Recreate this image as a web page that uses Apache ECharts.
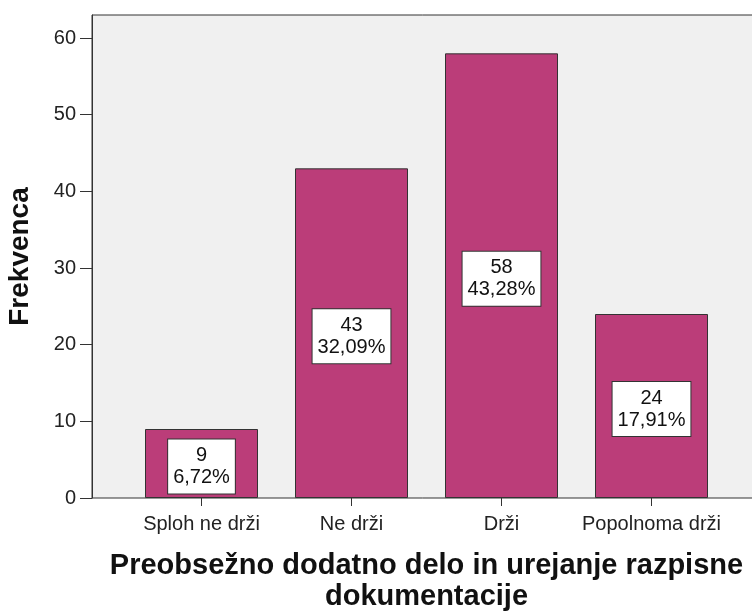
<!DOCTYPE html>
<html>
<head>
<meta charset="utf-8">
<script src="https://cdn.jsdelivr.net/npm/echarts@6/dist/echarts.min.js"></script>
<style>
html,body{margin:0;padding:0;background:#fff;}
#chart{width:752px;height:613px;}
</style>
</head>
<body>
<div id="chart"></div>
<script>
const categories = ['Sploh ne drži', 'Ne drži', 'Drži', 'Popolnoma drži'];
const counts = [9, 43, 58, 24];
const percentLabels = ['6,72%', '32,09%', '43,28%', '17,91%'];
const yTicks = [0, 10, 20, 30, 40, 50, 60];
const xTitle = 'Preobsežno dodatno delo in urejanje razpisne\ndokumentacije';
const yTitle = 'Frekvenca';

const FONT = '"Liberation Sans", Arial, sans-serif';
const chart = echarts.init(document.getElementById('chart'), null, {renderer: 'canvas'});

chart.setOption({
  animation: false,
  backgroundColor: '#ffffff',
  grid: [
    {left: 92, top: 15, width: 669, height: 483, show: true, backgroundColor: '#F0F0F0', borderColor: '#333', borderWidth: 1, containLabel: false, outerBoundsMode: 'none'},
    {left: 126.5, top: 15, width: 600, height: 483, containLabel: false, outerBoundsMode: 'none'}
  ],
  xAxis: [
    {gridIndex: 0, type: 'value', min: 0, max: 1, show: false},
    {
      gridIndex: 1, type: 'category', data: categories,
      axisLine: {show: false},
      axisTick: {show: true, alignWithLabel: true, length: 8, lineStyle: {color: '#333'}},
      axisLabel: {fontSize: 20, color: '#222', margin: 16, fontFamily: FONT, interval: 0},
      name: xTitle, nameLocation: 'middle', nameGap: 52,
      nameTextStyle: {fontSize: 29, fontWeight: 'bold', color: '#111', lineHeight: 31, fontFamily: FONT}
    }
  ],
  yAxis: [
    {
      gridIndex: 0, type: 'value', min: 0, max: 63,
      axisLine: {show: true, lineStyle: {color: '#333', width: 1}},
      axisTick: {show: true, length: 12, lineStyle: {color: '#333'}, customValues: yTicks},
      axisLabel: {fontSize: 20, color: '#222', margin: 16, fontFamily: FONT, customValues: yTicks},
      splitLine: {show: false},
      name: yTitle, nameLocation: 'middle', nameGap: 58, nameRotate: 90,
      nameTextStyle: {fontSize: 28, fontWeight: 'bold', color: '#111', fontFamily: FONT}
    },
    {gridIndex: 1, type: 'value', min: 0, max: 63, show: false}
  ],
  series: [{
    type: 'bar',
    xAxisIndex: 1, yAxisIndex: 1,
    data: counts,
    barWidth: 113,
    itemStyle: {color: '#BB3D79', borderColor: '#333', borderWidth: 1},
    label: {
      show: true, position: 'inside', offset: [0, 3],
      formatter: p => p.value + '\n' + percentLabels[p.dataIndex],
      backgroundColor: '#ffffff', borderColor: '#333', borderWidth: 1,
      padding: [5, 5], fontSize: 20, lineHeight: 22, color: '#111', fontFamily: FONT
    }
  }]
});
</script>
</body>
</html>
